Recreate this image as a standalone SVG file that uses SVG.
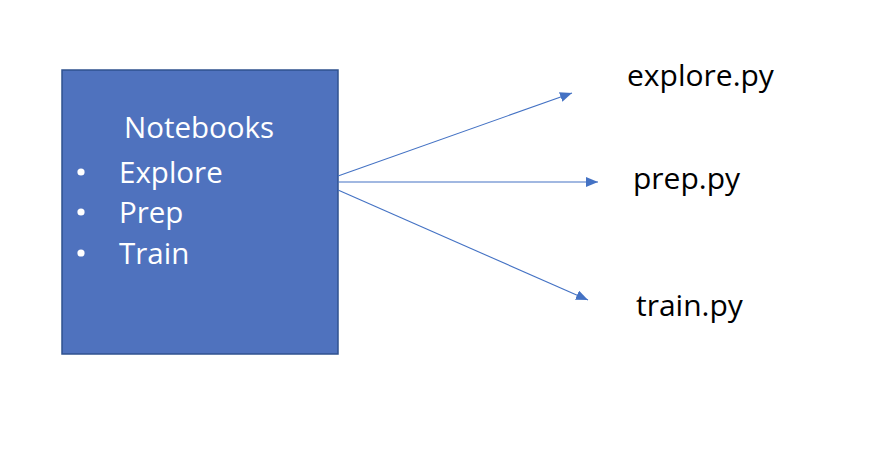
<svg xmlns="http://www.w3.org/2000/svg" width="886" height="470" viewBox="0 0 886 470">
<defs>
<style>
.lbl{font-family:"Open Sans","Liberation Sans",sans-serif;font-size:30px;fill:#000}
.wt{font-family:"Open Sans","Liberation Sans",sans-serif;font-size:29.5px;fill:#fff}
.con{stroke:#4472C4;stroke-width:1.1;fill:none}
</style>
<marker id="ah" markerUnits="userSpaceOnUse" markerWidth="14" markerHeight="12" refX="12" refY="5" orient="auto">
<path d="M0,0 L12,5 L0,10 Z" fill="#4472C4"/>
</marker>
</defs>
<rect width="886" height="470" fill="#fff"/>
<g id="notebooks">
<rect x="62" y="70" width="276" height="284" fill="#4F72BE" stroke="#2F528F" stroke-width="1.5"/>
<text class="wt" x="124" y="138">Notebooks</text>
<circle cx="81" cy="172" r="3.6" fill="#fff"/>
<text class="wt" x="119" y="183">Explore</text>
<circle cx="81" cy="212" r="3.6" fill="#fff"/>
<text class="wt" x="119" y="223">Prep</text>
<circle cx="81" cy="253" r="3.6" fill="#fff"/>
<text class="wt" x="119" y="264">Train</text>
</g>
<g id="explore">
<text class="lbl" x="627" y="86">explore.py</text>
</g>
<g id="prep">
<text class="lbl" x="633" y="189">prep.py</text>
</g>
<g id="train">
<text class="lbl" x="636" y="316">train.py</text>
</g>
<g id="connectors">
<line class="con" x1="338" y1="176" x2="572" y2="93" marker-end="url(#ah)"/>
<line class="con" x1="338" y1="182" x2="598" y2="182" marker-end="url(#ah)"/>
<line class="con" x1="338" y1="190" x2="588" y2="300" marker-end="url(#ah)"/>
</g>
</svg>
